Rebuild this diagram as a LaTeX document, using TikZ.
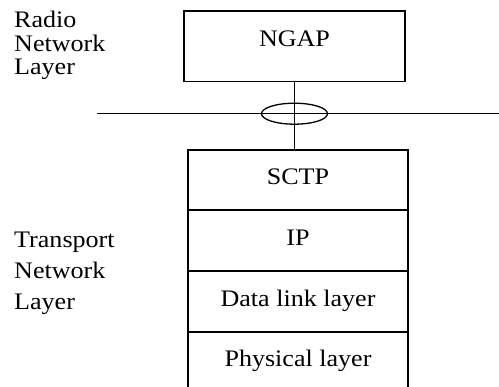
\documentclass[tikz,border=0pt]{standalone}
\usepackage{fontspec}
\setmainfont{Liberation Serif}[FakeStretch=1.1]
\usetikzlibrary{shapes.geometric}
\begin{document}
\begin{tikzpicture}[x=1pt,y=1pt,
  layerbox/.style={draw, line width=1.3pt, rectangle, inner sep=0pt},
  lbl/.style={inner sep=0pt, anchor=base, font=\fontsize{23.7}{23.5}\selectfont},
  side/.style={inner sep=0pt, anchor=base west, align=left},
  wire/.style={line width=1.3pt}]
\useasboundingbox (0,0) rectangle (499,-387);
\node[layerbox, minimum width=221, minimum height=70.7] (ngap) at (294.5,-46.3) {};
\node[lbl] (ngapt) at (294.5,-47) {NGAP};
\node[layerbox, minimum width=220, minimum height=60] (sctp) at (298,-180) {};
\node[layerbox, minimum width=220, minimum height=61] (ip) at (298,-240.5) {};
\node[layerbox, minimum width=220, minimum height=61] (dll) at (298,-301.5) {};
\node[layerbox, minimum width=220, minimum height=61] (phy) at (298,-362.5) {};
\node[lbl] (sctpt) at (298,-185) {SCTP};
\node[lbl] (ipt) at (298,-245.7) {IP};
\node[lbl] (dllt) at (298,-306.7) {Data link layer};
\node[lbl] (phyt) at (298,-366.7) {Physical layer};
\coordinate (hl) at (97,-113.7);
\coordinate (hr) at (499,-113.7);
\draw[wire] (hl) -- (hr);
\draw[wire] (ngap.south) -- (ngap.south |- sctp.north);
\node[draw, line width=1.3pt, ellipse, inner sep=0pt, minimum width=66, minimum height=21] (assoc) at (ngap.south |- hl) {};
\node[side, font=\fontsize{23.7}{23.5}\selectfont] (rnl) at (14,-75) {Radio\\Network\\Layer};
\node[side, font=\fontsize{23.7}{31}\selectfont] (tnl) at (14,-310) {Transport\\Network\\Layer};
\end{tikzpicture}
\end{document}
